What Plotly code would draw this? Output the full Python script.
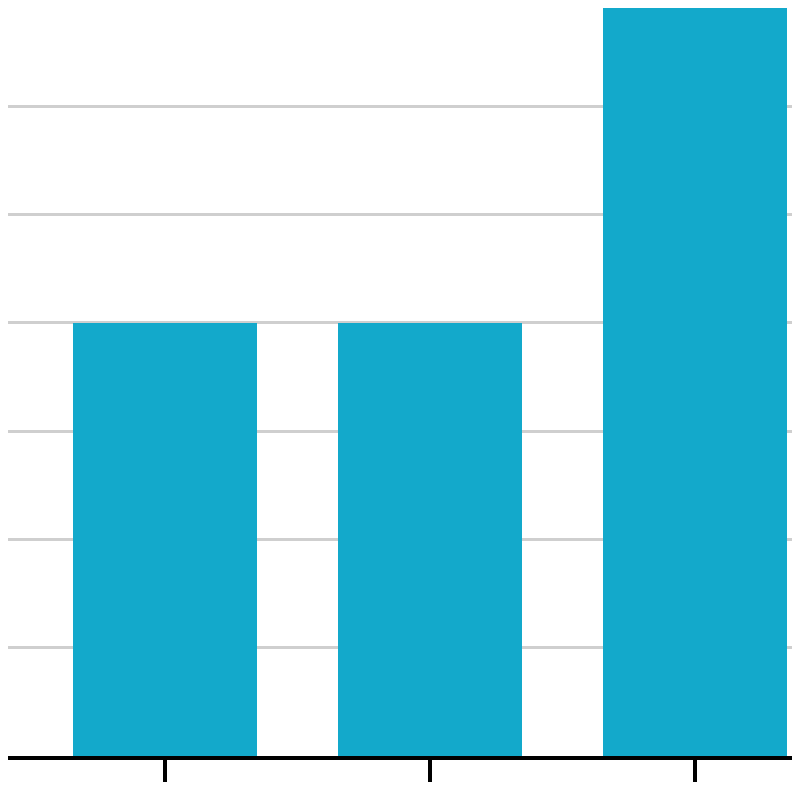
import plotly.graph_objects as go

categories = ["A", "B", "C"]
values = [4, 4, 8]

fig = go.Figure()
fig.add_trace(go.Bar(
    x=[0, 1, 2], y=values, width=0.698,
    marker=dict(color="#13A9CB", line=dict(width=0)),
    hovertext=categories,
))

fig.update_layout(
    width=800, height=800,
    margin=dict(l=0, r=0, t=0, b=52),
    plot_bgcolor="white", paper_bgcolor="white",
    showlegend=False,
    bargap=0,
)
fig.update_xaxes(
    range=[-0.5925, 2.4264], tickvals=[0, 1, 2], showticklabels=False,
    showgrid=False, zeroline=False,
    showline=True, linecolor="black", linewidth=4,
    ticks="outside", ticklen=22, tickwidth=4, tickcolor="black",
)
fig.update_yaxes(
    range=[0, 6.907], dtick=1, showticklabels=False,
    showgrid=True, gridcolor="#cfcfcf", gridwidth=3,
    zeroline=False, showline=False,
)

fig.write_html("out.html")
